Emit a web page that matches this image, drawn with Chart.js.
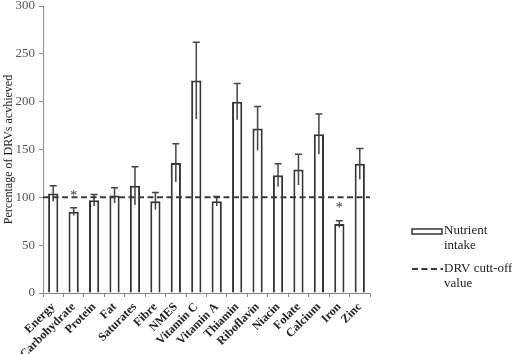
<!DOCTYPE html>
<html>
<head>
<meta charset="utf-8">
<script src="https://cdn.jsdelivr.net/npm/chart.js@4.4.1/dist/chart.umd.min.js"></script>
<style>
  html, body { margin: 0; padding: 0; background: #fff; }
  #wrap { width: 512px; height: 354px; }
</style>
</head>
<body>
<div id="wrap"><canvas id="nutrientChart"></canvas></div>
<script>
// values (% of DRV achieved, mean and SD)
const nutrients = ["Energy", "Carbohydrate", "Protein", "Fat", "Saturates", "Fibre", "NMES",
  "Vitamin C", "Vitamin A", "Thiamin", "Riboflavin", "Niacin", "Folate", "Calcium", "Iron", "Zinc"];
const intake = [104, 85, 97, 102, 112, 96, 136, 222, 96, 200, 172, 123, 129, 166, 72, 135];
const intakeSD = [8, 4, 6, 8, 20, 9, 20, 40, 5, 19, 23, 12, 16, 21, 3.5, 16];
const significant = [false, true, false, false, false, false, false, false, false, false, false, false, false, false, true, false];
const drvCutoff = 100;
const yTicks = [0, 50, 100, 150, 200, 250, 300];

const serif = "'Liberation Serif', 'Times New Roman', serif";

// error bars (cap on top only) + asterisks
const errorBars = {
    id: 'errorBars',
    afterDatasetsDraw(chart) {
        const ctx = chart.ctx;
        const meta = chart.getDatasetMeta(0);
        const y = chart.scales.y;
        ctx.save();
        ctx.strokeStyle = '#444';
        ctx.lineWidth = 1.5;
        meta.data.forEach(function(bar, i) {
            const top = y.getPixelForValue(intake[i] + intakeSD[i]);
            const bot = y.getPixelForValue(intake[i] - intakeSD[i]);
            ctx.beginPath();
            ctx.moveTo(bar.x, bot);
            ctx.lineTo(bar.x, top);
            ctx.moveTo(bar.x - 3.5, top);
            ctx.lineTo(bar.x + 3.5, top);
            ctx.stroke();
            if (significant[i]) {
                ctx.fillStyle = '#333';
                ctx.font = '14px ' + serif;
                ctx.textAlign = 'center';
                ctx.textBaseline = 'middle';
                ctx.fillText('*', bar.x, top - 12);
            }
        });
        ctx.restore();
    }
};

// DRV cut-off dashed line across the plot
const cutoffLine = {
    id: 'cutoffLine',
    afterDatasetsDraw(chart) {
        const ctx = chart.ctx;
        const area = chart.chartArea;
        const yy = chart.scales.y.getPixelForValue(drvCutoff);
        ctx.save();
        ctx.strokeStyle = '#3a3a3a';
        ctx.lineWidth = 2;
        ctx.setLineDash([6, 3.5]);
        ctx.beginPath();
        ctx.moveTo(area.left, yy);
        ctx.lineTo(area.right, yy);
        ctx.stroke();
        ctx.restore();
    }
};

// legend on the right, two-line labels like the original
const sideLegend = {
    id: 'sideLegend',
    afterDraw(chart) {
        const ctx = chart.ctx;
        const x0 = chart.chartArea.right + 42;
        ctx.save();
        ctx.strokeStyle = '#333';
        ctx.lineWidth = 1.5;
        ctx.strokeRect(x0, 229, 30, 5);
        ctx.strokeStyle = '#3a3a3a';
        ctx.lineWidth = 2;
        ctx.setLineDash([6, 3.5]);
        ctx.beginPath();
        ctx.moveTo(x0, 269);
        ctx.lineTo(x0 + 31, 269);
        ctx.stroke();
        ctx.fillStyle = '#222';
        ctx.font = '13px ' + serif;
        ctx.textBaseline = 'middle';
        ctx.fillText('Nutrient', x0 + 32, 231);
        ctx.fillText('intake', x0 + 32, 246);
        ctx.fillText('DRV cutt-off', x0 + 32, 269);
        ctx.fillText('value', x0 + 32, 284);
        ctx.restore();
    }
};

new Chart(document.getElementById('nutrientChart'), {
    type: 'bar',
    data: {
        labels: nutrients,
        datasets: [{
            label: 'Nutrient intake',
            data: intake,
            backgroundColor: '#ffffff',
            borderColor: '#333',
            borderWidth: 2,
            barPercentage: 0.5,
            categoryPercentage: 1.0
        }]
    },
    options: {
        responsive: true,
        maintainAspectRatio: false,
        animation: false,
        layout: { padding: { top: 6, right: 142, left: 0, bottom: 0 } },
        plugins: {
            legend: { display: false },
            tooltip: { enabled: false }
        },
        scales: {
            x: {
                afterFit(scale) {
                    scale.height = 61;
                    scale.paddingLeft = 0;
                    scale.paddingRight = 0;
                },
                grid: { display: true, drawOnChartArea: false, color: '#888', tickLength: 4 },
                border: { color: '#888', width: 1 },
                ticks: {
                    autoSkip: false,
                    minRotation: 45,
                    maxRotation: 45,
                    color: '#222',
                    padding: 3,
                    font: { family: serif, size: 12, weight: 'bold' }
                }
            },
            y: {
                min: 0,
                max: 300,
                afterBuildTicks(scale) {
                    scale.ticks = yTicks.map(v => ({ value: v }));
                },
                afterFit(scale) {
                    scale.width = 43;
                    scale.paddingTop = 0;
                    scale.paddingBottom = 0;
                },
                grid: { display: true, drawOnChartArea: false, color: '#888', tickLength: 4 },
                border: { color: '#888', width: 1 },
                ticks: {
                    color: '#555',
                    padding: 4,
                    font: { family: serif, size: 13 }
                },
                title: {
                    display: true,
                    text: 'Percentage of DRVs acvhieved',
                    color: '#222',
                    padding: 2,
                    font: { family: serif, size: 12 }
                }
            }
        }
    },
    plugins: [errorBars, cutoffLine, sideLegend]
});
</script>
</body>
</html>
